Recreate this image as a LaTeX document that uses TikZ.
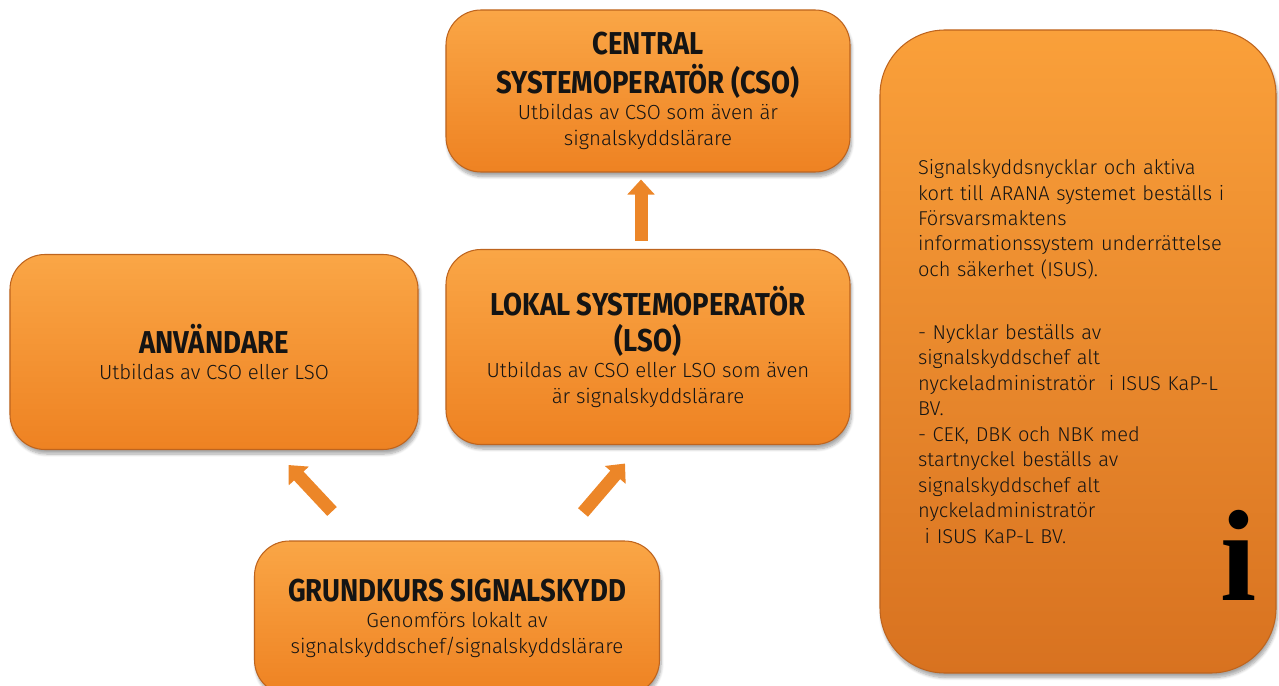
\documentclass[tikz,border=0pt]{standalone}
\usepackage{fontspec}
\usetikzlibrary{arrows.meta, shadows.blur, calc}
\newfontfamily\headfont{Fira Sans}[FakeStretch=0.87]
\newfontfamily\bodyfont{Fira Sans Light}
\newfontfamily\iconfont{Liberation Serif}
\definecolor{orangetop}{RGB}{250,166,70}
\definecolor{orangebot}{RGB}{238,130,34}
\definecolor{orangeedge}{RGB}{190,100,30}
\definecolor{infotop}{RGB}{250,160,58}
\definecolor{infobot}{RGB}{216,114,32}
\definecolor{arrowfill}{RGB}{236,134,40}
\definecolor{ink}{RGB}{20,20,20}
\newcommand{\boxhead}[1]{{\headfont\bfseries\fontsize{18}{20.5}\selectfont #1}}

\begin{document}
\begin{tikzpicture}[>=Triangle, semithick]
\tikzstyle{box}=[draw=orangeedge, line width=0.6pt, top color=orangetop, bottom color=orangebot,
  rounded corners=0.7cm, align=center, text=ink, inner sep=2pt,
  font=\bodyfont\fontsize{11.6}{14.8}\selectfont,
  blur shadow={shadow xshift=0.03cm, shadow yshift=-0.09cm, shadow opacity=35, shadow blur steps=8}]
\tikzstyle{up}=[line width=0.26cm, draw=arrowfill, -{Triangle[length=0.3cm, width=0.53cm]}]

\useasboundingbox (0,0) rectangle (25.58,-13.72);

\node[box, minimum width=8.08cm, minimum height=3.24cm] (cso) at (12.96,-1.82)
  {\boxhead{CENTRAL}\\[0.14cm]\boxhead{SYSTEMOPERATÖR (CSO)}\\Utbildas av CSO som även är\\signalskyddslärare};
\node[box, minimum width=8.08cm, minimum height=3.9cm] (lso) at (12.96,-6.94)
  {\boxhead{LOKAL SYSTEMOPERATÖR}\\[0.14cm]\boxhead{(LSO)}\\Utbildas av CSO eller LSO som även\\är signalskyddslärare};
\node[box, minimum width=8.16cm, minimum height=3.9cm] (anv) at (4.28,-7.04)
  {\boxhead{ANVÄNDARE}\\Utbildas av CSO eller LSO};
\node[box, minimum width=8.1cm, minimum height=3.08cm] (grund) at (9.14,-12.36)
  {\boxhead{GRUNDKURS SIGNALSKYDD}\\Genomförs lokalt av\\signalskyddschef/signalskyddslärare};

% info panel
\node[box, top color=infotop, bottom color=infobot, rounded corners=1.3cm,
  minimum width=7.92cm, minimum height=12.86cm, text width=6.4cm, align=left,
  font=\bodyfont\fontsize{11.4}{14.5}\selectfont] (info) at (21.56,-7.03)
  {Signalskyddsnycklar och aktiva\\kort till ARANA systemet beställs i\\Försvarsmaktens\\informationssystem underrättelse\\och säkerhet (ISUS).\\[0.75cm]
   - Nycklar beställs av\\signalskyddschef alt\\nyckeladministratör\ \ i ISUS KaP-L\\BV.\\
   - CEK, DBK och NBK med\\startnyckel beställs av\\signalskyddschef alt\\nyckeladministratör\\\ i ISUS KaP-L BV.};
\node[anchor=base east, inner sep=0pt, font=\iconfont\bfseries\fontsize{74}{74}\selectfont]
  (icon) at ($(info.south east)+(-0.38,1.46)$) {i};

\coordinate (ltail) at ($(grund.north)+(-2.5,0.58)$);
\coordinate (lhead) at ($(anv.south east)+(-2.6,-0.3)$);
\coordinate (rtail) at ($(grund.north)+(2.52,0.56)$);
\coordinate (rhead) at ($(lso.south)+(-0.46,-0.37)$);

\draw[up, shorten <=0.16cm, shorten >=0.14cm] ([xshift=-0.14cm]lso.north) -- ([xshift=-0.14cm]cso.south);
\draw[up] (ltail) -- (lhead);
\draw[up] (rtail) -- (rhead);
\end{tikzpicture}
\end{document}
